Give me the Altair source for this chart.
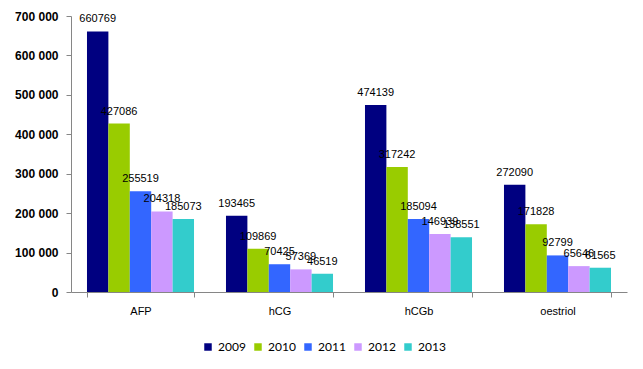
import altair as alt
import pandas as pd

categories = ["AFP", "hCG", "hCGb", "oestriol"]
years = ["2009", "2010", "2011", "2012", "2013"]
colors = ["#000080", "#99CC00", "#3366FF", "#CC99FF", "#33CCCC"]
values = {
    "AFP": [660769, 427086, 255519, 204318, 185073],
    "hCG": [193465, 109869, 70425, 57369, 46519],
    "hCGb": [474139, 317242, 185094, 146939, 138551],
    "oestriol": [272090, 171828, 92799, 65646, 61565],
}
y_ticks = [0, 100000, 200000, 300000, 400000, 500000, 600000, 700000]

rows = []
for c in categories:
    for y, v in zip(years, values[c]):
        rows.append({"cat": c, "year": y, "value": v})
df = pd.DataFrame(rows)

x = alt.X("cat:N", sort=categories, title=None,
          scale=alt.Scale(paddingInner=0.23, paddingOuter=0.115),
          axis=alt.Axis(labelAngle=0, tickBand="extent", domainColor="#868686",
                        tickColor="#868686", tickSize=5, labelFont="Liberation Sans",
                        labelFontSize=11, labelColor="#000000", labelPadding=8))
xo = alt.XOffset("year:N", sort=years, scale=alt.Scale(paddingInner=0, paddingOuter=0))
y = alt.Y("value:Q", title=None,
          scale=alt.Scale(domain=[0, 700000], nice=False, zero=True),
          axis=alt.Axis(values=y_ticks, grid=False, labelOverlap=False, tickCount=8,
                        domainColor="#868686", tickColor="#868686", tickSize=5,
                        labelFont="Liberation Sans", labelFontSize=12, labelFontWeight="bold",
                        labelColor="#000000", labelPadding=8, minExtent=58,
                        labelExpr="replace(format(datum.value, ',d'), regexp(',', 'g'), ' ')"))

base = alt.Chart(df).encode(x=x, xOffset=xo, y=y)

bars = base.mark_bar().encode(
    color=alt.Color("year:N", sort=years, scale=alt.Scale(domain=years, range=colors),
                    legend=alt.Legend(title=None, orient="none", direction="horizontal",
                                      legendX=131, legendY=325,
                                      symbolType="square", symbolSize=56, symbolStrokeWidth=0,
                                      labelFont="Lato", labelFontSize=12, labelColor="#000000",
                                      columnPadding=6, labelOffset=4)),
)

labels = base.mark_text(dy=-12, font="Liberation Sans", fontSize=11, color="#000000").encode(
    text=alt.Text("value:Q", format="d"),
)

chart = (bars + labels).properties(
    width=556, height=276,
    padding={"left": 5, "top": 2, "right": 5, "bottom": 5},
).configure_view(stroke=None)

chart.save("out.html", embed_options={"renderer": "svg", "actions": False})
